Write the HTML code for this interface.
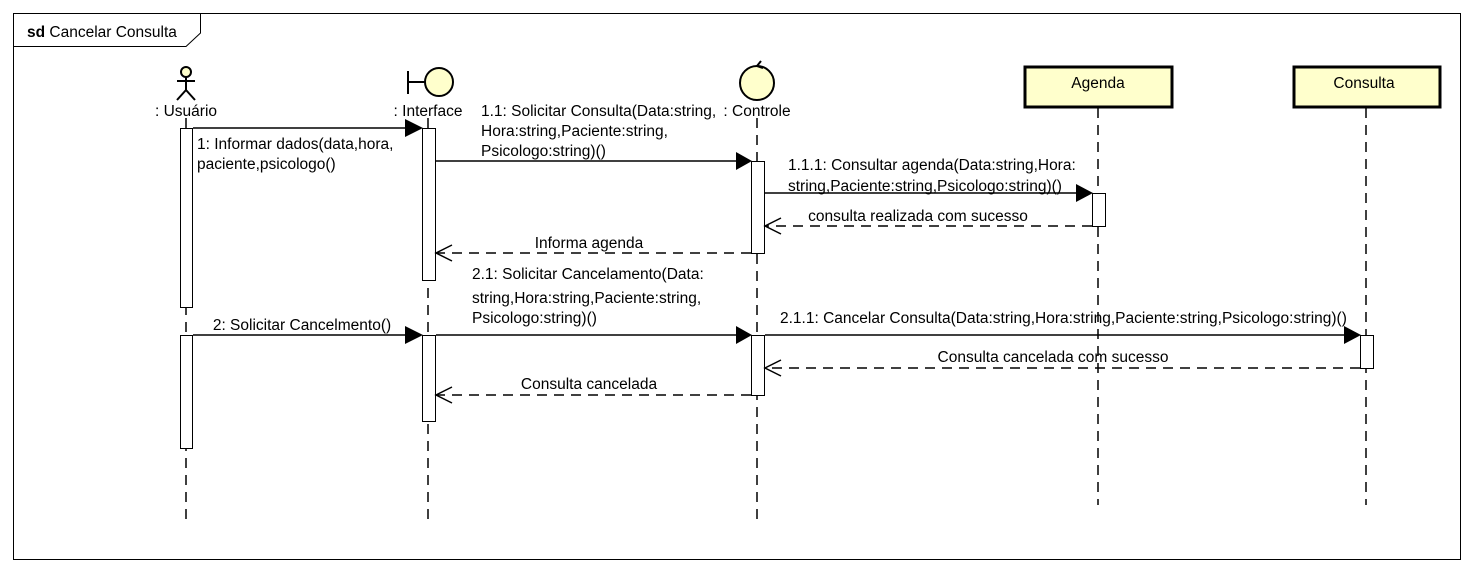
<!DOCTYPE html>
<html><head><meta charset="utf-8"><style>
body{margin:0;background:#fff;}
svg{display:block;font-family:"Liberation Sans",Arial,sans-serif;}
svg text{font-size:15.5px;}
</style></head><body>
<svg width="1473" height="573" viewBox="0 0 1473 573" xmlns="http://www.w3.org/2000/svg">
<rect x="0" y="0" width="1473" height="573" fill="#fff"/>
<rect x="13.5" y="13.5" width="1447" height="546" fill="none" stroke="#000" stroke-width="1"/>
<path d="M13.5 46.5 H186 L200.5 33 V13.5" fill="none" stroke="#000"/>
<text x="27" y="37"><tspan font-weight="bold">sd</tspan> Cancelar Consulta</text>

<g stroke="#000" stroke-dasharray="10 7" stroke-width="1.5">
<line x1="186" y1="118" x2="186" y2="520"/>
<line x1="428" y1="118" x2="428" y2="520"/>
<line x1="757" y1="118" x2="757" y2="520"/>
<line x1="1098" y1="108" x2="1098" y2="505"/>
<line x1="1366" y1="108" x2="1366" y2="505"/>
</g>

<g stroke="#000" stroke-width="2" fill="none">
<circle cx="186" cy="72" r="5" fill="#ffffcc"/>
<line x1="186" y1="77" x2="186" y2="90"/>
<line x1="177" y1="81" x2="195" y2="81"/>
<line x1="186" y1="90" x2="177" y2="100"/>
<line x1="186" y1="90" x2="195" y2="100"/>
</g>
<text x="186" y="116" text-anchor="middle">: Usuário</text>

<g stroke="#000" stroke-width="2">
<line x1="408" y1="71" x2="408" y2="94"/>
<line x1="408" y1="82" x2="425" y2="82"/>
<circle cx="439" cy="82" r="14" fill="#ffffcc"/>
</g>
<text x="428" y="116" text-anchor="middle">: Interface</text>

<g stroke="#000" stroke-width="2">
<circle cx="757" cy="83" r="17" fill="#ffffcc"/>
<path d="M761 61 L757 66 L763 68" fill="none"/>
</g>
<text x="757" y="116" text-anchor="middle">: Controle</text>

<rect x="1025" y="67" width="147" height="40" fill="#ffffcc" stroke="#000" stroke-width="3"/>
<text x="1098" y="88" text-anchor="middle">Agenda</text>
<rect x="1294" y="67" width="146" height="40" fill="#ffffcc" stroke="#000" stroke-width="3"/>
<text x="1364" y="88" text-anchor="middle">Consulta</text>

<g fill="#fff" stroke="#000" stroke-width="1">
<rect x="180.5" y="128.5" width="12" height="179"/>
<rect x="180.5" y="335.5" width="12" height="113"/>
<rect x="422.5" y="128.5" width="13" height="152"/>
<rect x="422.5" y="335.5" width="13" height="86"/>
<rect x="751.5" y="161.5" width="13" height="92"/>
<rect x="751.5" y="335.5" width="13" height="60"/>
<rect x="1092.5" y="193.5" width="13" height="33"/>
<rect x="1360.5" y="335.5" width="13" height="33"/>
</g>

<g stroke="#000" stroke-width="1.5">
<line x1="193" y1="128" x2="410" y2="128"/>
<line x1="436" y1="161" x2="738" y2="161"/>
<line x1="765" y1="193" x2="1079" y2="193"/>
<line x1="193" y1="335" x2="410" y2="335"/>
<line x1="436" y1="335" x2="738" y2="335"/>
<line x1="765" y1="335" x2="1347" y2="335"/>
</g>
<g fill="#000">
<polygon points="405,119 423,128 405,137"/>
<polygon points="736,152 752,161 736,170"/>
<polygon points="1076,184 1093,193 1076,202"/>
<polygon points="405,326 423,335 405,344"/>
<polygon points="736,326 752,335 736,344"/>
<polygon points="1344,326 1361,335 1344,344"/>
</g>

<g stroke="#000" stroke-width="1.5" fill="none">
<line x1="1092" y1="226" x2="766" y2="226" stroke-dasharray="10 7"/>
<path d="M781 218 L765 226 L781 234"/>
<line x1="751" y1="253" x2="437" y2="253" stroke-dasharray="10 7"/>
<path d="M452 245 L436 253 L452 261"/>
<line x1="1360" y1="368" x2="766" y2="368" stroke-dasharray="10 7"/>
<path d="M781 360 L765 368 L781 376"/>
<line x1="751" y1="395" x2="437" y2="395" stroke-dasharray="10 7"/>
<path d="M452 387 L436 395 L452 403"/>
</g>

<text x="197" y="149">1: Informar dados(data,hora,</text>
<text x="197" y="169">paciente,psicologo()</text>
<text x="481" y="116">1.1: Solicitar Consulta(Data:string,</text>
<text x="481" y="136">Hora:string,Paciente:string,</text>
<text x="481" y="156">Psicologo:string)()</text>
<text x="788" y="170">1.1.1: Consultar agenda(Data:string,Hora:</text>
<text x="788" y="191">string,Paciente:string,Psicologo:string)()</text>
<text x="918" y="221" text-anchor="middle">consulta realizada com sucesso</text>
<text x="589" y="248" text-anchor="middle">Informa agenda</text>
<text x="472" y="279">2.1: Solicitar Cancelamento(Data:</text>
<text x="472" y="303">string,Hora:string,Paciente:string,</text>
<text x="472" y="323">Psicologo:string)()</text>
<text x="302" y="330" text-anchor="middle">2: Solicitar Cancelmento()</text>
<text x="780" y="323">2.1.1: Cancelar Consulta(Data:string,Hora:string,Paciente:string,Psicologo:string)()</text>
<text x="1053" y="362" text-anchor="middle">Consulta cancelada com sucesso</text>
<text x="589" y="389" text-anchor="middle">Consulta cancelada</text>
</svg>
</body></html>
